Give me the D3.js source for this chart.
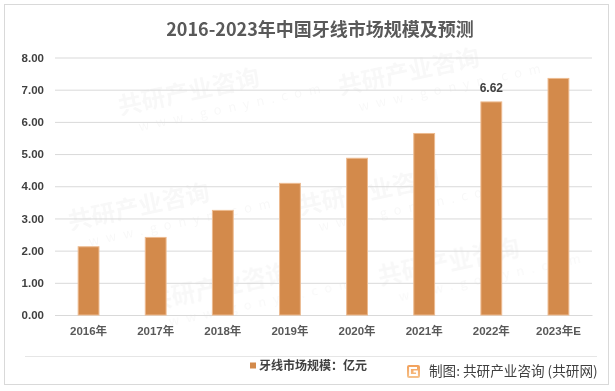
<!DOCTYPE html>
<html>
<head>
<meta charset="utf-8">
<script src="https://cdn.jsdelivr.net/npm/d3@7"></script>
<style>
  html, body { margin: 0; padding: 0; background: #fff; }
  svg { display: block; }
</style>
</head>
<body>
<svg id="chart" width="615" height="391"></svg>
<script>
const categories = ["2016年", "2017年", "2018年", "2019年", "2020年", "2021年", "2022年", "2023年E"];
const values = [2.12, 2.41, 3.25, 4.09, 4.87, 5.64, 6.62, 7.35];
const yTicks = [0, 1, 2, 3, 4, 5, 6, 7, 8];
const labelled = ["2022年"];
const seriesName = "牙线市场规模：亿元";
const titleText = "2016-2023年中国牙线市场规模及预测";
const creditText = "制图: 共研产业咨询 (共研网)";

const svg = d3.select("#chart");
const cjk = "'Noto Sans CJK SC', 'Liberation Sans', sans-serif";
const num = "'Liberation Sans', 'Noto Sans CJK SC', sans-serif";

// frame
svg.append("rect").attr("x", 4.5).attr("y", 4.5).attr("width", 604).attr("height", 380)
  .attr("fill", "#fff").attr("stroke", "#D9D9D9").attr("stroke-width", 1);

// faint watermarks (kept fully inside the frame)
const wm = svg.append("g").attr("fill", "#000").attr("opacity", 0.03).attr("font-family", cjk).attr("font-weight", "bold");
const wmPos = [[120, 115], [340, 95], [70, 230], [300, 215], [150, 310], [380, 285]];
wmPos.forEach(([x, y]) => {
  const g = wm.append("g").attr("transform", `translate(${x},${y}) rotate(-12)`);
  g.append("text").attr("font-size", 24).text("共研产业咨询");
  g.append("text").attr("y", 20).attr("x", 16).attr("font-size", 13).attr("font-weight", "normal")
    .attr("letter-spacing", 7).text("www.gonyn.com");
});

// title
svg.append("text").attr("x", 320).attr("y", 36).attr("text-anchor", "middle")
  .attr("font-family", cjk).attr("font-weight", "bold").attr("font-size", 18)
  .attr("fill", "#595959").text(titleText);

const x = d3.scaleBand().domain(categories).range([55, 592]).paddingInner(0.69).paddingOuter(0.345);
const y = d3.scaleLinear().domain([0, 8]).range([315, 57.5]);

// gridlines
const yAxis = d3.axisLeft(y).tickValues(yTicks).tickSize(-(592 - 55)).tickFormat(d3.format(".2f"));
const gy = svg.append("g").attr("transform", "translate(55,0)").call(yAxis);
gy.select(".domain").remove();
gy.selectAll(".tick line").attr("stroke", "#D9D9D9").attr("stroke-width", 1);
gy.selectAll(".tick text").attr("x", -11).attr("fill", "#404040")
  .attr("font-family", num).attr("font-weight", "bold").attr("font-size", 11.5);

// x axis
const xAxis = d3.axisBottom(x).tickSize(0).tickPadding(12);
const gx = svg.append("g").attr("transform", "translate(0,315)").call(xAxis);
gx.select(".domain").attr("stroke", "#D9D9D9");
gx.selectAll(".tick text").attr("fill", "#595959")
  .attr("font-family", num).attr("font-weight", "bold").attr("font-size", 11.5);

// bars
svg.append("g").selectAll("rect").data(categories).join("rect")
  .attr("x", d => x(d))
  .attr("y", (d, i) => y(values[i]))
  .attr("width", x.bandwidth())
  .attr("height", (d, i) => y(0) - y(values[i]))
  .attr("fill", "#D38A4B").attr("stroke", "#EDBB90").attr("stroke-width", 1);

// data label
svg.append("g").selectAll("text").data(categories.filter(c => labelled.includes(c))).join("text")
  .attr("x", d => x(d) + x.bandwidth() / 2)
  .attr("y", d => y(values[categories.indexOf(d)]) - 10)
  .attr("text-anchor", "middle").attr("font-family", num).attr("font-size", 12).attr("font-weight", "bold")
  .attr("fill", "#404040").text(d => values[categories.indexOf(d)].toFixed(2));

// separator
svg.append("line").attr("x1", 25).attr("x2", 597).attr("y1", 356.5).attr("y2", 356.5)
  .attr("stroke", "#E6E6E6").attr("stroke-width", 1);

// legend
svg.append("rect").attr("x", 250).attr("y", 362.5).attr("width", 6).attr("height", 6).attr("fill", "#D38A4B");
svg.append("text").attr("x", 259).attr("y", 370).attr("font-family", cjk).attr("font-size", 12)
  .attr("font-weight", "bold").attr("fill", "#404040").text(seriesName);

// credit logo
const defs = svg.append("defs");
const lg = defs.append("linearGradient").attr("id", "lg").attr("x1", 0).attr("y1", 0).attr("x2", 0).attr("y2", 1);
lg.append("stop").attr("offset", "0%").attr("stop-color", "#F2A05A");
lg.append("stop").attr("offset", "100%").attr("stop-color", "#F6C28C");
svg.append("rect").attr("x", 407).attr("y", 365).attr("width", 13).attr("height", 13).attr("rx", 2).attr("fill", "url(#lg)");
svg.append("path").attr("d", "M417,368 L410,368 L410,375 L417,375 L417,371.5 L413.5,371.5")
  .attr("fill", "none").attr("stroke", "#fff").attr("stroke-width", 1.8);
svg.append("text").attr("x", 429).attr("y", 376).attr("font-family", cjk).attr("font-size", 13.6)
  .attr("fill", "#404040").text(creditText);
</script>
</body>
</html>
